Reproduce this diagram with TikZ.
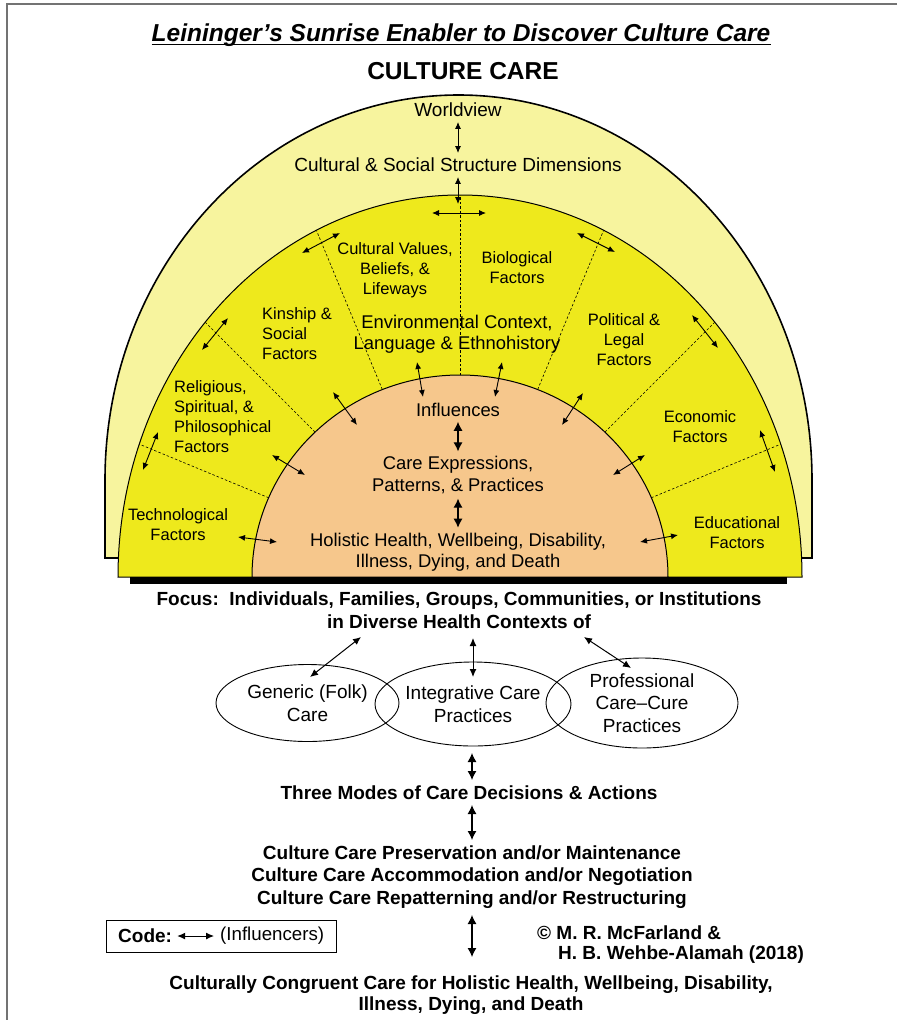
\documentclass[tikz,border=0pt]{standalone}
\usepackage{fontspec}
\setmainfont{Liberation Sans}
\usetikzlibrary{shapes}
\usetikzlibrary{positioning}
\usetikzlibrary{arrows.meta}
\definecolor{sunpale}{RGB}{247,244,158}
\definecolor{sunmid}{RGB}{238,233,28}
\definecolor{suncore}{RGB}{246,199,140}
\tikzset{
    domeo/.style = {draw=black, line width=1.6pt, fill=sunpale},
    domem/.style = {draw=black, line width=1pt, fill=sunmid},
    domei/.style = {draw=black, line width=1pt, fill=suncore},
    sector/.style = {draw=black, line width=0.6pt, dash pattern=on 2.5pt off 2pt},
    edgei/.style = {<->, >={Latex[length=7pt,width=6pt]}, line width=0.9pt},
    edgem/.style = {<->, >={Latex[length=8pt,width=7pt]}, line width=1pt},
    edgeb/.style = {<->, >={Latex[length=9pt,width=9pt]}, line width=1.1pt},
    factor/.style = {align=center, inner sep=0pt, font=\fontsize{16.5}{20}\selectfont},
    factorl/.style = {factor, align=left, anchor=west},
    core/.style = {align=center, inner sep=0pt, outer sep=5pt, font=\fontsize{19}{22}\selectfont},
    corei/.style = {core, font=\fontsize{18.4}{21.5}\selectfont},
    focus/.style = {align=center, inner sep=0pt, font=\bfseries\fontsize{19}{22.5}\selectfont},
    careell/.style = {ellipse, draw=black, line width=0.9pt, align=center, inner sep=0pt, font=\fontsize{19}{22.5}\selectfont},
    codebox/.style = {rectangle, draw=black, line width=0.9pt, minimum width=230pt, minimum height=32pt}
}

\begin{document}
\begin{tikzpicture}[x=1pt,y=1pt]
\useasboundingbox (0,0) rectangle (897,-1020);
% frame
\draw[black!55, line width=1.8pt] (897,-4) -- (7,-4) -- (7,-1020);
%
\node[inner sep=0pt, text depth=0pt, font=\bfseries\itshape\fontsize{24.5}{28}\selectfont] (title) at (461,-33) {Leininger's Sunrise Enabler to Discover Culture Care};
\draw[line width=1.6pt] ([yshift=-2.5pt]title.base west) -- ([yshift=-2.5pt]title.base east);
\node[inner sep=0pt, font=\bfseries\fontsize{24.5}{28}\selectfont] (cc) at (463,-71) {CULTURE CARE};
%
% sunrise
\coordinate (ctr) at (460,-577);
\draw[domeo] (105,-558) -- (105,-480) arc[start angle=180, end angle=0, x radius=353.5, y radius=385] -- (812,-558) -- cycle;
\draw[domem] (118,-577) arc[start angle=180, end angle=0, x radius=342, y radius=382] -- cycle;
\draw[domei] (252,-577) arc[start angle=180, end angle=0, x radius=208, y radius=202] -- cycle;
\foreach \t/\ri/\ro in {22.5/207/347, 45/205/360, 67.5/203/375, 90/202/382, 112.5/203/375, 135/205/360, 157.5/207/347}
  \draw[sector] ([shift={(\t:\ri)}]ctr) -- ([shift={(\t:\ro)}]ctr);
\fill[black] (130,-577) rectangle (787,-584);
%
\node[core] (wv) at (458,-110) {Worldview};
\node[core] (csd) at (458,-165) {Cultural \& Social Structure Dimensions};
\coordinate (ringtop) at (458,-204);
\coordinate (crossw) at (432,-213);
\coordinate (crosse) at (486,-213);
%
\node[factor] (cvb) at (395,-270) {Cultural Values,\\Beliefs, \&\\Lifeways};
\node[factor] (bio) at (517,-268) {Biological\\Factors};
\node[factorl] (kin) at (262,-334) {Kinship \&\\Social\\Factors};
\node[corei] (env) at (457,-334) {Environmental Context,\\Language \& Ethnohistory};
\node[factor] (pol) at (624,-340) {Political \&\\Legal\\Factors};
\node[factorl] (rel) at (174,-417) {Religious,\\Spiritual, \&\\Philosophical\\Factors};
\node[factor] (eco) at (700,-427) {Economic\\Factors};
\node[factor] (tec) at (178,-525) {Technological\\Factors};
\node[factor] (edu) at (737,-533) {Educational\\Factors};
%
\node[corei] (inf) at (458,-410) {Influences};
\node[corei] (cexp) at (458,-475) {Care Expressions,\\Patterns, \& Practices};
\node[corei] (hol) at (458,-552) {Holistic Health, Wellbeing, Disability,\\Illness, Dying, and Death};
%
\draw[edgei] (wv) -- (csd);
\draw[edgei] (csd) -- (ringtop);
\draw[edgei] (crossw) -- (crosse);
\draw[edgeb] (inf) -- (cexp);
\draw[edgeb] (cexp) -- (hol);
% influencers across the rings
\foreach \ax/\ay/\bx/\by [count=\i] in {302/253/340/233, 202/350/228/318, 143/470/158/432,
    333/392/357/425, 272/455/305/475, 238/537/277/542, 417/362/423/397, 502/362/495/397,
    577/233/615/252, 692/315/718/348, 760/430/775/472, 583/393/562/425, 645/455/613/475,
    678/535/640/542}
{
  \coordinate (ra\i) at (\ax,-\ay);
  \coordinate (rb\i) at (\bx,-\by);
  \draw[edgei] (ra\i) -- (rb\i);
}
%
% health contexts
\node[focus, font=\bfseries\fontsize{19}{23.4}\selectfont] (focus) at (459,-610) {Focus:\ \ Individuals, Families, Groups, Communities, or Institutions\\in Diverse Health Contexts of};
\node[careell, minimum width=183pt, minimum height=77pt] (gen) at (307.5,-703) {Generic (Folk)\\Care};
\node[careell, minimum width=196pt, minimum height=84pt] (integ) at (473,-704) {Integrative Care\\Practices};
\node[careell, minimum width=192pt, minimum height=90pt] (prof) at (642,-703) {Professional\\Care--Cure\\Practices};
\foreach \ax/\ay/\bx/\by [count=\i] in {361/637/310/677, 473/638/473/677, 584/637/631/668}
{
  \coordinate (fa\i) at (\ax,-\ay);
  \coordinate (fb\i) at (\bx,-\by);
  \draw[edgem] (fa\i) -- (fb\i);
}
%
% care decisions
\node[focus] (modes) at (469,-793) {Three Modes of Care Decisions \& Actions};
\node[focus] (acts) at (472,-877) {Culture Care Preservation and/or Maintenance\\Culture Care Accommodation and/or Negotiation\\Culture Care Repatterning and/or Restructuring};
\node[focus, font=\bfseries\fontsize{19}{21}\selectfont] (outc) at (471,-995) {Culturally Congruent Care for Holistic Health, Wellbeing, Disability,\\Illness, Dying, and Death};
\coordinate (c1) at (472,-753);
\coordinate (c2) at (472,-780);
\coordinate (c3) at (472,-805);
\coordinate (c4) at (472,-840);
\coordinate (c5) at (472,-915);
\coordinate (c6) at (472,-957);
\draw[edgeb] (c1) -- (c2);
\draw[edgeb] (c3) -- (c4);
\draw[edgeb] (c5) -- (c6);
%
\node[codebox] (code) at (221,-936) {};
\node[focus, anchor=west] (codelbl) at (118,-936) {Code:};
\node[inner sep=0pt, anchor=west, font=\fontsize{18.7}{22}\selectfont] (codeinf) at (220,-936) {(Influencers)};
\draw[edgem, shorten <=5pt, shorten >=6pt] (codelbl) -- (codeinf);
\node[focus, anchor=west] (cp1) at (537,-933) {© M. R. McFarland \&};
\node[focus, anchor=west] (cp2) at (558,-955) {H. B. Wehbe-Alamah (2018)};

\end{tikzpicture}
\end{document}
